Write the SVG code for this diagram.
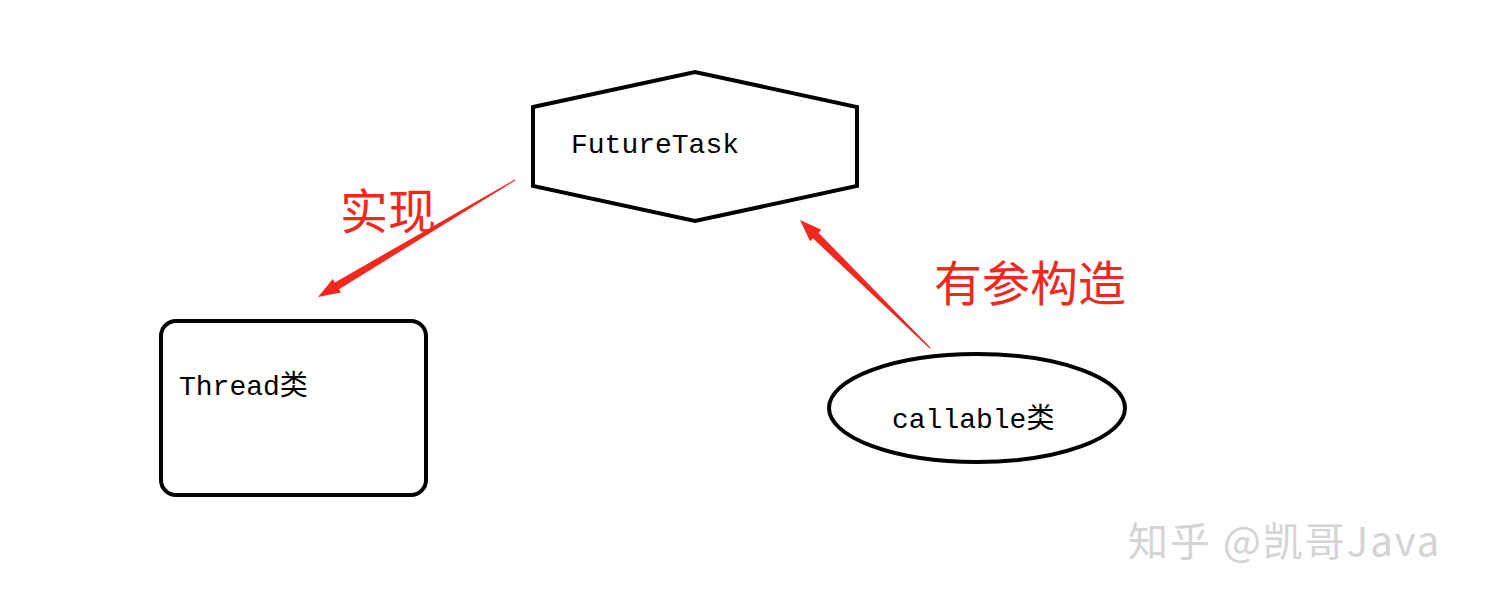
<svg xmlns="http://www.w3.org/2000/svg" width="1492" height="600" viewBox="0 0 1492 600">
<style>
.shape{fill:#fff;stroke:#000;stroke-width:4}
.lbl{font-family:"Liberation Mono","Noto Sans CJK SC",monospace;font-size:28px;fill:#000}
.red{font-family:"Noto Sans CJK SC",sans-serif;font-size:48px;fill:#f0281e}
.arr{fill:#f0281e}
</style>
<rect width="1492" height="600" fill="#fff"/>
<g id="futuretask"><polygon class="shape" points="533,107 695,72 857,107 857,186 695,221 533,186"/><text class="lbl" x="571" y="153">FutureTask</text></g>
<g id="thread"><rect class="shape" x="161" y="321" width="265" height="174" rx="15"/><text class="lbl" x="179" y="395">Thread类</text></g>
<g id="callable"><ellipse class="shape" cx="977" cy="408" rx="148" ry="54"/><text class="lbl" x="892" y="428">callable类</text></g>
<g id="connectors">
<polygon class="arr" points="515.3,180.4 514.7,179.6 334.9,282.4 332.8,279 318,297 341,292.6 339,289.2"/>
<polygon class="arr" points="930.4,347.6 929.6,348.4 812.9,238.3 810.1,241.2 800,220 821.3,229.8 818.5,232.7"/>
<text class="red" x="340" y="229">实现</text>
<text class="red" x="934" y="301">有参构造</text>
</g>
<text x="1128" y="556" font-family="Noto Sans CJK SC,sans-serif" font-size="40" letter-spacing="2" fill="#d4d4d4">知乎 @凯哥Java</text>
</svg>
